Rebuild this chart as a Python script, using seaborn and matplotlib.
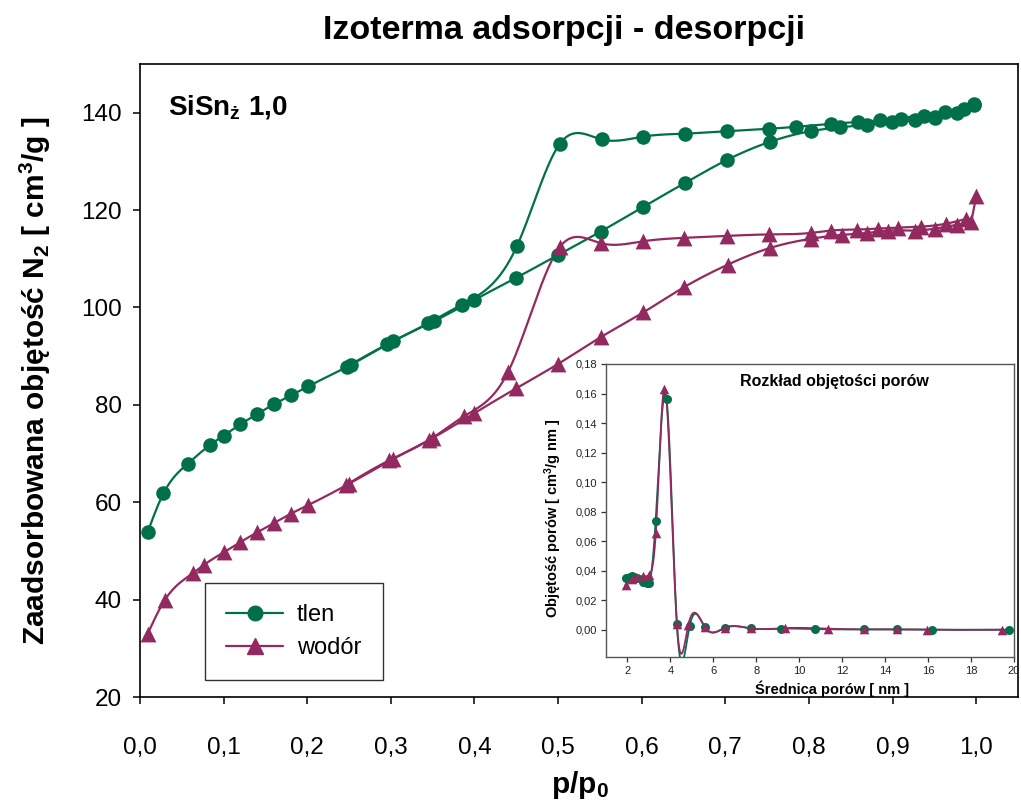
import numpy as np
import matplotlib
matplotlib.use("Agg")
import matplotlib.pyplot as plt
from matplotlib.lines import Line2D
from matplotlib.ticker import FuncFormatter
import seaborn as sns

sns.set_style("ticks")
plt.rcParams["font.family"] = ["Liberation Sans", "DejaVu Sans"]
plt.rcParams["mathtext.default"] = "regular"
for key in ["text.color", "axes.labelcolor", "xtick.color", "ytick.color", "axes.edgecolor"]:
    plt.rcParams[key] = "black"

# ---- N2 isotherm, oxygen-treated sample (tlen) ----
tlen_ads_p = [0.009, 0.028, 0.057, 0.084, 0.100, 0.120, 0.140, 0.160, 0.181, 0.201,
              0.252, 0.303, 0.352, 0.400, 0.450, 0.500, 0.551, 0.601, 0.652, 0.702,
              0.753, 0.802, 0.837, 0.870, 0.899, 0.927, 0.951, 0.977, 0.997]
tlen_ads_v = [53.8, 61.8, 67.9, 71.8, 73.7, 76.0, 78.1, 80.1, 82.0, 83.8,
              88.2, 93.1, 97.2, 101.6, 106.1, 110.8, 115.6, 120.6, 125.6, 130.3,
              134.0, 136.2, 137.0, 137.5, 138.0, 138.5, 139.0, 140.0, 141.5]
tlen_des_p = [0.997, 0.985, 0.963, 0.951, 0.937, 0.910, 0.885, 0.859, 0.826, 0.785,
              0.752, 0.702, 0.652, 0.602, 0.552, 0.502, 0.451, 0.385, 0.345, 0.295,
              0.247]
tlen_des_v = [141.8, 140.8, 140.1, 139.1, 139.3, 138.8, 138.4, 138.1, 137.7, 137.1,
              136.7, 136.2, 135.7, 135.1, 134.5, 133.6, 112.7, 100.6, 96.8, 92.4,
              87.8]

# ---- N2 isotherm, hydrogen-treated sample (wodór) ----
wodor_ads_p = [0.009, 0.030, 0.063, 0.077, 0.100, 0.120, 0.140, 0.160, 0.180, 0.201,
               0.250, 0.303, 0.350, 0.400, 0.450, 0.500, 0.551, 0.602, 0.651, 0.703,
               0.753, 0.802, 0.839, 0.870, 0.895, 0.927, 0.951, 0.977, 0.994, 1.000]
wodor_ads_v = [32.9, 40.0, 45.4, 47.2, 49.7, 51.8, 53.8, 55.7, 57.6, 59.4,
               63.8, 68.9, 73.2, 78.3, 83.4, 88.4, 93.9, 99.0, 104.2, 108.8,
               112.2, 114.1, 114.9, 115.3, 115.8, 115.8, 116.2, 117.0, 117.5, 122.8]
wodor_des_p = [0.988, 0.964, 0.934, 0.907, 0.883, 0.857, 0.826, 0.802, 0.752, 0.702,
               0.651, 0.602, 0.551, 0.502, 0.440, 0.388, 0.346, 0.298, 0.246]
wodor_des_v = [118.2, 117.2, 116.6, 116.4, 116.2, 116.0, 115.8, 115.3, 115.0, 114.7,
               114.3, 113.6, 113.2, 112.4, 86.7, 77.7, 72.8, 68.6, 63.5]

# ---- pore volume distribution ----
tlen_d = [1.91, 2.19, 2.26, 2.45, 2.73, 2.89, 3.01, 3.31, 3.82, 4.30,
          4.89, 5.61, 6.54, 7.73, 9.14, 10.73, 13.00, 14.53, 16.16, 19.77]
tlen_pv = [0.0353, 0.0364, 0.0344, 0.0348, 0.0326, 0.0315, 0.0315, 0.0733, 0.1564, 0.0040,
           0.0022, 0.0016, 0.0013, 0.0009, 0.0007, 0.0004, 0.0002, 0.0002, 0.0, 0.0]
wodor_d = [1.91, 2.19, 2.42, 2.73, 3.01, 3.32, 3.70, 4.30, 4.83, 5.61,
           6.54, 7.73, 9.34, 11.34, 13.00, 14.53, 15.96, 19.46]
wodor_pv = [0.0306, 0.0344, 0.0357, 0.0362, 0.0371, 0.0658, 0.1630, 0.0040, 0.0030, 0.0016,
            0.0013, 0.0009, 0.0011, 0.0007, 0.0002, 0.0002, 0.0, 0.0]

series_labels = ["tlen", "wodór"]
x_ticks = [0.0, 0.1, 0.2, 0.3, 0.4, 0.5, 0.6, 0.7, 0.8, 0.9, 1.0]
y_ticks = [20, 40, 60, 80, 100, 120, 140]
inset_x_ticks = [2, 4, 6, 8, 10, 12, 14, 16, 18, 20]
inset_y_ticks = [0.00, 0.02, 0.04, 0.06, 0.08, 0.10, 0.12, 0.14, 0.16, 0.18]

GREEN = "#00704A"
PURPLE = "#922A60"


def natural_spline(t, y, tt):
    t = np.asarray(t, float)
    y = np.asarray(y, float)
    n = len(t)
    h = np.diff(t)
    A = np.zeros((n, n))
    r = np.zeros(n)
    A[0, 0] = A[-1, -1] = 1.0
    for i in range(1, n - 1):
        A[i, i - 1] = h[i - 1]
        A[i, i] = 2 * (h[i - 1] + h[i])
        A[i, i + 1] = h[i]
        r[i] = 3 * ((y[i + 1] - y[i]) / h[i] - (y[i] - y[i - 1]) / h[i - 1])
    c = np.linalg.solve(A, r)
    b = (y[1:] - y[:-1]) / h - h * (2 * c[:-1] + c[1:]) / 3
    d = (c[1:] - c[:-1]) / (3 * h)
    idx = np.clip(np.searchsorted(t, tt, side="right") - 1, 0, n - 2)
    dt = tt - t[idx]
    return y[idx] + b[idx] * dt + c[idx] * dt ** 2 + d[idx] * dt ** 3


def spline_curve(x, y, n=800):
    """Natural cubic spline y(x) through the points, evaluated on a fine grid."""
    x = np.asarray(x, float)
    y = np.asarray(y, float)
    order = np.argsort(x)
    x, y = x[order], y[order]
    xx = np.linspace(x[0], x[-1], n)
    return xx, natural_spline(x, y, xx)


fig = plt.figure(figsize=(10.21, 8.07), dpi=100)
ax = fig.add_axes([140 / 1021, 1 - 697 / 807, (1018 - 140) / 1021, (697 - 64) / 807])

# the hydrogen adsorption branch ends with a near-vertical step at p/p0 = 1
main_sets = [
    (tlen_ads_p, tlen_ads_v, GREEN, "o", 110, 0),
    (tlen_des_p, tlen_des_v, GREEN, "o", 110, 0),
    (wodor_ads_p, wodor_ads_v, PURPLE, "^", 130, 1),
    (wodor_des_p, wodor_des_v, PURPLE, "^", 130, 0),
]
for px, pv, col, mk, sz, tail in main_sets:
    m = len(px) - tail
    cx, cy = spline_curve(px[:m], pv[:m])
    if tail:
        cx = np.concatenate([cx, px[m:]])
        cy = np.concatenate([cy, pv[m:]])
    sns.lineplot(x=cx, y=cy, sort=False, estimator=None, color=col, lw=1.6, ax=ax, zorder=2)
for px, pv, col, mk, sz, tail in main_sets:
    sns.scatterplot(x=px, y=pv, marker=mk, s=sz, color=col, edgecolor=col, linewidth=0,
                    ax=ax, zorder=3)

ax.set_xlim(0, 1.05)
ax.set_ylim(20, 150)
ax.set_xticks(x_ticks)
ax.set_yticks(y_ticks)
ax.xaxis.set_major_formatter(FuncFormatter(lambda v, _: f"{v:.1f}".replace(".", ",")))
ax.tick_params(axis="x", direction="out", length=5, width=1.1, labelsize=17.5, pad=24)
ax.tick_params(axis="y", direction="out", length=5, width=1.1, labelsize=17.5, pad=8)
for sp in ax.spines.values():
    sp.set_visible(True)
    sp.set_color("black")
    sp.set_linewidth(1.2)
ax.set_xlabel("")
ax.set_ylabel("")

fig.text(564 / 1021, 1 - 30 / 807, "Izoterma adsorpcji - desorpcji", ha="center", va="center",
         fontsize=24.5, fontweight="bold")
fig.text(35 / 1021, 1 - 381 / 807, "Zaadsorbowana objętość N$_2$ [ cm$^3$/g ]", ha="center",
         va="center", rotation=90, fontsize=21.5, fontweight="bold")
fig.text(580 / 1021, 1 - 785 / 807, "p/p$_0$", ha="center", va="center", fontsize=21.5,
         fontweight="bold")
ax.text(168 / 1021, 1 - 107 / 807, "SiSn$_ż$ 1,0", transform=fig.transFigure, ha="left",
        va="center", fontsize=20, fontweight="bold")

handles = [
    Line2D([], [], color=GREEN, lw=1.6, marker="o", markersize=10.5),
    Line2D([], [], color=PURPLE, lw=1.6, marker="^", markersize=11.5),
]
leg = ax.legend(handles, series_labels, loc="upper left",
                bbox_to_anchor=(205 / 1021, 1 - 583 / 807), bbox_transform=fig.transFigure,
                borderaxespad=0, fontsize=17, frameon=True, fancybox=False, handlelength=2.4,
                handletextpad=0.6, labelspacing=0.45, borderpad=0.9)
leg.get_frame().set_edgecolor("black")
leg.get_frame().set_linewidth(1.0)

# ---- inset: pore volume distribution ----
ins = fig.add_axes([606 / 1021, 1 - 657 / 807, (1014 - 606) / 1021, (657 - 364) / 807])
for dx, dy, col, mk, sz in [(tlen_d, tlen_pv, GREEN, "o", 42), (wodor_d, wodor_pv, PURPLE, "^", 48)]:
    cx, cy = spline_curve(dx, dy, n=1500)
    sns.lineplot(x=cx, y=cy, sort=False, estimator=None, color=col, lw=1.3, ax=ins, zorder=2)
    sns.scatterplot(x=dx, y=dy, marker=mk, s=sz, color=col, edgecolor=col, linewidth=0,
                    ax=ins, zorder=3)
ins.set_xlim(1.0, 20.0)
ins.set_ylim(-0.0185, 0.18)
ins.set_xticks(inset_x_ticks)
ins.set_yticks(inset_y_ticks)
ins.yaxis.set_major_formatter(FuncFormatter(lambda v, _: f"{v:.2f}".replace(".", ",")))
ins.tick_params(direction="out", length=3.5, width=0.9, labelsize=8, pad=3, color="#333333",
                labelcolor="#222222")
for sp in ins.spines.values():
    sp.set_visible(True)
    sp.set_color("#555555")
    sp.set_linewidth(1.0)
ins.set_xlabel("")
ins.set_ylabel("")
ins.text(0.56, 0.94, "Rozkład objętości porów", transform=ins.transAxes, ha="center", va="center",
         fontsize=11.5, fontweight="bold")
fig.text(832 / 1021, 1 - 689 / 807, "Średnica porów [ nm ]", ha="center", va="center",
         fontsize=10.5, fontweight="bold")
fig.text(553 / 1021, 1 - 518 / 807, "Objętość porów [ cm$^3$/g nm ]", ha="center", va="center",
         rotation=90, fontsize=10.5, fontweight="bold")

fig.savefig("out.png", dpi=100)
